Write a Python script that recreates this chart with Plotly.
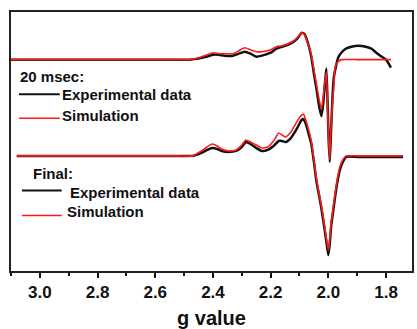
import plotly.graph_objects as go

# ---- data (g value vs. relative EPR intensity, arbitrary units) ----
g_top_exp = [3.10, 2.90, 2.70, 2.52, 2.48, 2.45, 2.42, 2.40, 2.38, 2.36, 2.33, 2.31, 2.29, 2.27, 2.25, 2.23,
             2.20, 2.18, 2.16, 2.14, 2.12, 2.105, 2.093, 2.083, 2.072, 2.059, 2.05, 2.041, 2.032, 2.024,
             2.018, 2.012, 2.007, 2.003, 1.999, 1.995, 1.991, 1.986, 1.981, 1.976, 1.966, 1.955, 1.94,
             1.92, 1.897, 1.87, 1.85, 1.838, 1.82, 1.80, 1.783]
i_top_exp = [0, 0, 0, 0, 0, 1, 3, 5, 5, 4, 4, 6, 8, 6, 3, 4,
             7, 11, 13, 15, 18, 22, 27, 26, 18, 3, -14, -30, -47, -57,
             -45, -25, -9, -40, -80, -103, -75, -40, -18, -10, 2, 7, 11,
             13, 14, 13, 11, 8, 4, 0, -8]

g_top_sim = [3.10, 2.90, 2.70, 2.52, 2.48, 2.45, 2.42, 2.40, 2.38, 2.36, 2.33, 2.31, 2.29, 2.27, 2.25, 2.23,
             2.20, 2.18, 2.16, 2.14, 2.12, 2.105, 2.093, 2.083, 2.072, 2.059, 2.05, 2.041, 2.032, 2.024,
             2.018, 2.012, 2.007, 2.003, 1.999, 1.995, 1.991, 1.986, 1.981, 1.976, 1.966, 1.955, 1.90,
             1.84, 1.783]
i_top_sim = [0, 0, 0, 0, 0, 2, 5, 7, 6, 6, 6, 9, 12, 10, 8, 8,
             10, 13, 14, 16, 19, 23, 27, 25, 17, 5, -10, -25, -40, -50,
             -38, -22, -13, -45, -80, -100, -70, -45, -27, -7, -2, 0, 0,
             0, 0]

g_bot = [3.08, 2.90, 2.70, 2.52, 2.47, 2.44, 2.42, 2.403, 2.385, 2.37, 2.345, 2.32, 2.30, 2.286, 2.27, 2.25,
         2.231, 2.21, 2.19, 2.172, 2.16, 2.148, 2.13, 2.11, 2.093, 2.086, 2.078, 2.068, 2.059, 2.05,
         2.041, 2.032, 2.024, 2.015, 2.007, 2.0, 1.995, 1.99, 1.983, 1.976, 1.968, 1.959, 1.948,
         1.938, 1.90, 1.85, 1.80, 1.741]
i_bot_exp = [0, 0, 0, 0, 0, 3, 6, 8, 7, 5, 4, 5, 9, 14, 12, 8,
             5, 6, 10, 15, 15, 14, 18, 27, 36, 37, 32, 22, 12, -6,
             -26, -40, -53, -70, -86, -100, -88, -70, -55, -40, -25, -13, -5,
             -1, -1, -1, -1, -1]
i_bot_sim = [0, 0, 0, 0, 0, 5, 9, 12, 10, 7, 5, 6, 11, 16, 14, 11,
             8, 9, 15, 23, 21, 19, 24, 34, 41, 42, 36, 26, 15, -4,
             -24, -38, -50, -67, -83, -95, -84, -67, -52, -37, -22, -10, -3,
             0, 0, 0, 0, 0]

offset_top = 213
offset_bottom = 116
tick_vals = [3.0, 2.8, 2.6, 2.4, 2.2, 2.0, 1.8]

BLACK = "#111111"
RED = "#ff1a1a"
FONT = "Liberation Sans, Arial, sans-serif"

fig = go.Figure()
def add(g, inten, off, color, width):
    fig.add_trace(go.Scatter(x=g, y=[v + off for v in inten], mode="lines",
                             line=dict(color=color, width=width, shape="spline", smoothing=0.5),
                             showlegend=False, hoverinfo="skip"))

add(g_top_exp, i_top_exp, offset_top, BLACK, 2.5)
add(g_top_sim, i_top_sim, offset_top, RED, 1.6)
add(g_bot, i_bot_exp, offset_bottom, BLACK, 2.5)
add(g_bot, i_bot_sim, offset_bottom, RED, 1.6)

# ---- hand-drawn style legends (paper coords) ----
W, H, L, T = 403.0, 261.0, 11.0, 12.0
def px(x):
    return (x - L) / W
def py(y):
    return (T + H - y) / H

def legline(x0, x1, y, color, width):
    fig.add_shape(type="line", xref="paper", yref="paper", x0=px(x0), x1=px(x1), y0=py(y), y1=py(y),
                  line=dict(color=color, width=width))

def legtext(x, y, text):
    fig.add_annotation(xref="paper", yref="paper", x=px(x), y=py(y), text=text, showarrow=False,
                       xanchor="left", yanchor="middle",
                       font=dict(family=FONT, size=15, color=BLACK, weight="bold"))

legtext(18, 77, "20 msec:")
legline(19, 60, 95, BLACK, 2)
legtext(60, 95, "Experimental data")
legline(19, 60, 119, RED, 1.5)
legtext(60, 116, "Simulation")

legtext(31, 175, "Final:")
legline(22, 62, 192, BLACK, 2)
legtext(68, 194, "Experimental data")
legline(22, 62, 217, RED, 1.5)
legtext(65, 213, "Simulation")

fig.update_layout(
    width=417, height=329,
    margin=dict(l=11, r=3, t=12, b=56),
    plot_bgcolor="white", paper_bgcolor="white",
    font=dict(family=FONT, color=BLACK),
)
fig.update_xaxes(range=[3.1, 1.710], tickvals=tick_vals, tickformat=".1f",
                 ticks="outside", ticklen=5, tickwidth=2, tickcolor=BLACK,
                 minor=dict(dtick=0.1, ticks="outside", ticklen=3, tickwidth=1.5, tickcolor=BLACK),
                 showline=True, linewidth=2, linecolor="#222222", mirror=True,
                 showgrid=False, zeroline=False,
                 tickfont=dict(family=FONT, size=17, color=BLACK, weight="bold"),
                 title=dict(text="g value", standoff=10,
                            font=dict(family=FONT, size=20, color=BLACK, weight="bold")))
fig.update_yaxes(range=[0, 261], showticklabels=False, ticks="", showgrid=False, zeroline=False,
                 showline=True, linewidth=2, linecolor="#222222", mirror=True)

fig.write_html("out.html")
